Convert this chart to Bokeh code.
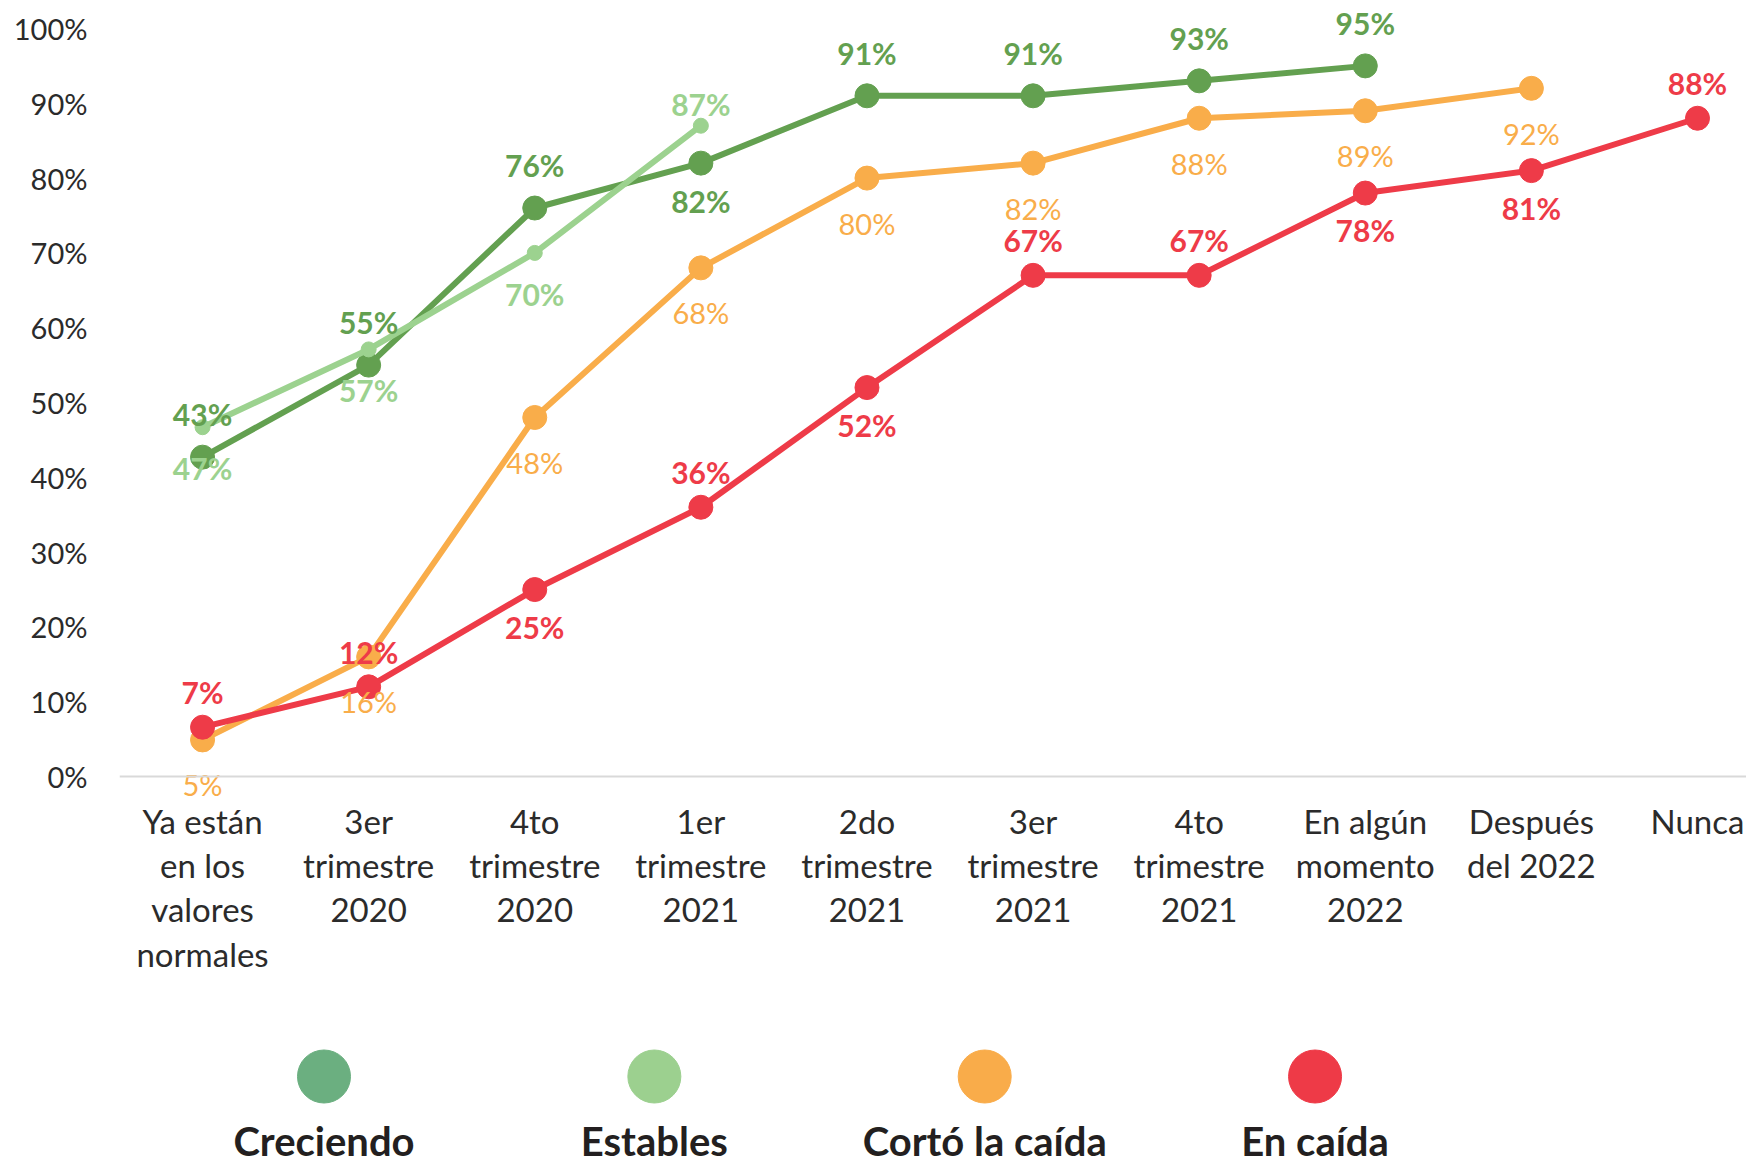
from bokeh.plotting import figure
from bokeh.models import (Range1d, FixedTicker, PrintfTickFormatter, Span,
                          ColumnDataSource, CustomJSTickFormatter)
from bokeh.layouts import column
from bokeh.embed import file_html
from bokeh.resources import INLINE
from bokeh.core.properties import value

# ---------------- data ----------------
categories = ["Ya están\nen los\nvalores\nnormales", "3er\ntrimestre\n2020",
              "4to\ntrimestre\n2020", "1er\ntrimestre\n2021", "2do\ntrimestre\n2021",
              "3er\ntrimestre\n2021", "4to\ntrimestre\n2021", "En algún\nmomento\n2022",
              "Después\ndel 2022", "Nunca"]
series_names = ["Creciendo", "Estables", "Cortó la caída", "En caída"]
creciendo = [42.7, 55, 76, 82, 91, 91, 93, 95]
estables = [46.7, 57.1, 70, 87]
corto = [4.9, 16, 48, 68, 80, 82, 88, 89, 92]
en_caida = [6.6, 12, 25, 36, 52, 67, 67, 78, 81, 88]
y_ticks = [0, 10, 20, 30, 40, 50, 60, 70, 80, 90, 100]

# label placement (a = above, b = below)
creciendo_pos = ["a", "a", "a", "b", "a", "a", "a", "a"]
estables_pos = ["b", "b", "b", "a"]
corto_pos = ["b"] * 9
en_caida_pos = ["a", "a", "b", "a", "b", "a", "a", "b", "b", "a"]

FONT = "Lato"
AXIS_COLOR = "#2B2B2B"

# ---------------- main chart ----------------
p = figure(width=1746, height=1008,
           x_range=Range1d(-0.5, 9.295), y_range=Range1d(-4, 102.67),
           output_backend="svg", toolbar_location=None,
           min_border_left=119, min_border_right=0,
           min_border_top=8, min_border_bottom=202)
p.xgrid.visible = False
p.ygrid.visible = False
p.outline_line_color = None
p.background_fill_color = "white"
p.border_fill_color = "white"

p.xaxis.ticker = FixedTicker(ticks=list(range(len(categories))))
p.xaxis.formatter = CustomJSTickFormatter(args=dict(labels=categories),
                                          code="return labels[Math.round(tick)] || '';")
p.xaxis.axis_line_color = None
p.xaxis.major_tick_line_color = None
p.xaxis.minor_tick_line_color = None
p.xaxis.major_tick_out = 0
p.xaxis.major_label_standoff = -6
p.xaxis.major_label_text_font = FONT
p.xaxis.major_label_text_font_size = "33px"
p.xaxis.major_label_text_color = AXIS_COLOR
p.xaxis.major_label_text_line_height = 1.11

p.yaxis.ticker = FixedTicker(ticks=y_ticks)
p.yaxis.formatter = PrintfTickFormatter(format="%d%%")
p.yaxis.axis_line_color = None
p.yaxis.major_tick_line_color = None
p.yaxis.minor_tick_line_color = None
p.yaxis.major_tick_out = 0
p.yaxis.major_label_standoff = 32
p.yaxis.major_label_text_font = FONT
p.yaxis.major_label_text_font_size = "29px"
p.yaxis.major_label_text_color = AXIS_COLOR

p.add_layout(Span(location=0, dimension="width", line_color="#D9D9D9", line_width=2))

series = [
    (creciendo, creciendo_pos, "#63A050", 24, "bold", "30px", -43, 38),
    (estables, estables_pos, "#9CD28F", 15, "bold", "30px", -22, 41),
    (corto, corto_pos, "#F9AD4A", 24, "normal", "29px", -40, 45),
    (en_caida, en_caida_pos, "#EE3B48", 24, "bold", "30px", -35, 37),
]

for vals, pos, color, msize, *_ in series:
    xs = list(range(len(vals)))
    p.line(xs, vals, line_color=color, line_width=6)
    p.scatter(xs, vals, size=msize, fill_color=color, line_color=color)

for vals, pos, color, msize, fstyle, fsize, up, down in series:
    xs = list(range(len(vals)))
    src = ColumnDataSource(dict(
        x=xs, y=vals,
        t=[f"{int(v + 0.5)}%" for v in vals],
        dy=[up if q == "a" else down for q in pos],
    ))
    p.text(x="x", y="y", text="t", y_offset="dy", source=src,
           text_align="center", text_baseline="middle",
           text_font=value(FONT), text_font_size=fsize,
           text_font_style=fstyle, text_color=color)

# ---------------- legend ----------------
legend_colors = ["#6BAF80", "#9CD08F", "#F9AC4A", "#EE3A47"]
lf = figure(width=1746, height=157,
            x_range=Range1d(-0.619, 4.306),
            y_range=Range1d(-0.391, 1.0625),
            x_axis_location=None, y_axis_location=None,
            output_backend="svg", toolbar_location=None,
            min_border_left=119, min_border_right=0,
            min_border_top=0, min_border_bottom=0)
lf.xgrid.visible = False
lf.ygrid.visible = False
lf.outline_line_color = None
lsrc = ColumnDataSource(dict(x=list(range(len(series_names))), name=series_names,
                             color=legend_colors))
# circle row at y=1 (68px from top), label row at y=0 (132px from top)
lf.y_range = Range1d(-25 / 64, 1 + 68 / 64)
lf.scatter(x="x", y=1, size=53, fill_color="color", line_color="color", source=lsrc)
lf.text(x="x", y=0, text="name", source=lsrc,
        text_align="center", text_baseline="middle",
        text_font=value(FONT), text_font_size="40px", text_font_style="bold",
        text_color="#231F20")

layout = column(p, lf, spacing=0)
open("out.html", "w").write(file_html(layout, INLINE))
